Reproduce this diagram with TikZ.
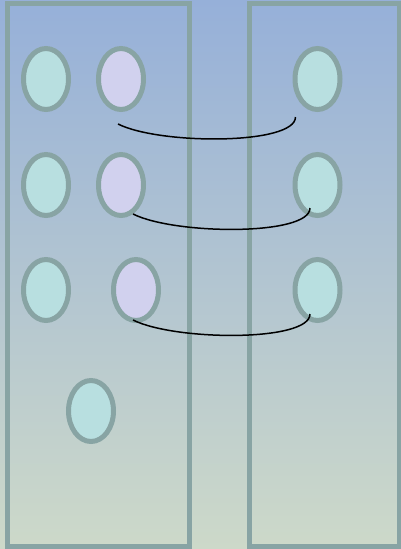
\documentclass[tikz,border=0pt]{standalone}
\usetikzlibrary{shapes.geometric,calc}
\definecolor{bgtop}{HTML}{96B0D9}
\definecolor{bgbot}{HTML}{CDD9C9}
\definecolor{edgegrey}{HTML}{88A4A4}
\definecolor{tealfill}{HTML}{B8DFE0}
\definecolor{lavfill}{HTML}{D1D1EE}
\tikzset{
  panel/.style={draw=edgegrey, line width=5pt, rectangle, inner sep=0pt, fill=none},
  oval/.style={ellipse, draw=edgegrey, line width=5pt, minimum width=45pt, minimum height=61pt, inner sep=0pt, fill=tealfill},
  lavoval/.style={oval, fill=lavfill},
  link/.style={draw=black, line width=1.5pt}
}
\begin{document}
\begin{tikzpicture}[x=1pt,y=-1pt]
\useasboundingbox (0,0) rectangle (401,549);
\shade[top color=bgtop, bottom color=bgbot] (0,0) rectangle (401,549);
\node[panel, minimum width=181.5pt, minimum height=543pt] (leftpanel) at (98.25,275) {};
\node[panel, minimum width=149.5pt, minimum height=543pt] (rightpanel) at (324.25,275) {};
% ovals
\node[oval] (a1) at (46,79) {};
\node[lavoval] (b1) at (121,79) {};
\node[oval] (c1) at (317.5,79) {};
\node[oval] (a2) at (46,185) {};
\node[lavoval] (b2) at (121,185) {};
\node[oval] (c2) at (317.5,185) {};
\node[oval] (a3) at (46,290) {};
\node[lavoval] (b3) at (136,290) {};
\node[oval] (c3) at (317.5,290) {};
\node[oval] (d4) at (91,411) {};
% curve ends
\coordinate (s1) at ($(b1.center)+(-3,45)$);
\coordinate (e1) at ($(c1.center)+(-22,38)$);
\coordinate (s2) at ($(b2.center)+(12,29)$);
\coordinate (e2) at ($(c2.center)+(-7.5,23)$);
\coordinate (s3) at ($(b3.center)+(-3,30)$);
\coordinate (e3) at ($(c3.center)+(-7.5,24)$);
\draw[link] (s1) .. controls ($(s1)+(42,21)$) and ($(e1)+(0,28)$) .. (e1);
\draw[link] (s2) .. controls ($(s2)+(42,21)$) and ($(e2)+(0,28)$) .. (e2);
\draw[link] (s3) .. controls ($(s3)+(42,21)$) and ($(e3)+(0,28)$) .. (e3);
\end{tikzpicture}
\end{document}
